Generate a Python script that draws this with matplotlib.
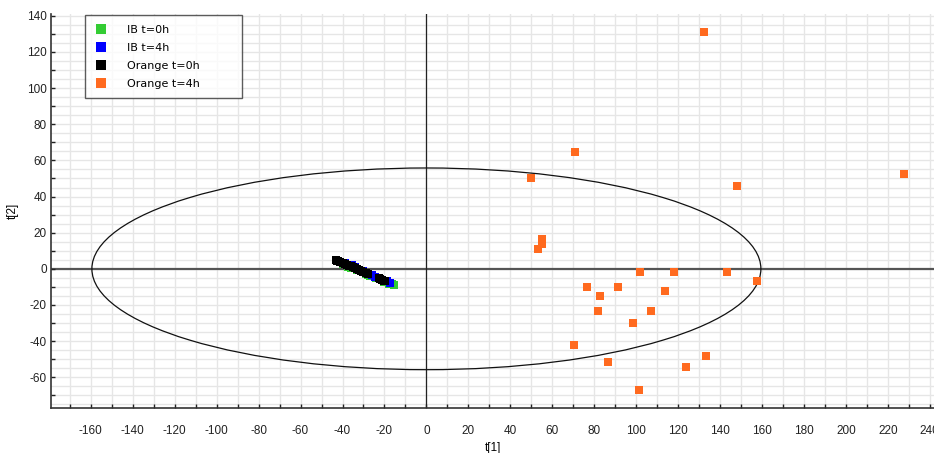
import numpy as np
import matplotlib.pyplot as plt
from matplotlib.patches import Ellipse
from matplotlib.ticker import MultipleLocator

plt.rcParams['axes.unicode_minus'] = False

# score values t[1], t[2] per group
ib0_t1 = [-40.0, -37.5, -36.0, -33.0, -29.0, -28.0, -27.0, -24.0, -20.0, -18.0, -16.5, -15.3]
ib0_t2 = [2.8, 1.2, 0.6, -0.8, -2.9, -3.4, -3.8, -5.3, -7.4, -8.2, -8.6, -9.0]

ib4_t1 = [-39.0, -35.5, -34.0, -30.0, -26.0, -24.5, -19.0, -17.5]
ib4_t2 = [3.4, 2.2, 1.2, -1.0, -3.6, -4.4, -6.8, -7.6]

or0_t1 = [-43.0, -42.5, -42.0, -41.0, -40.0, -39.0, -38.0, -37.0, -36.0, -35.0, -34.0,
          -33.0, -32.0, -31.0, -30.0, -29.0, -28.0, -22.5, -22.0, -21.0, -20.0, -19.5]
or0_t2 = [4.8, 4.5, 4.3, 3.8, 3.3, 2.8, 2.3, 1.8, 1.3, 0.8, 0.3,
          -0.2, -0.7, -1.1, -1.6, -2.1, -2.6, -5.2, -5.5, -6.0, -6.5, -6.8]

or4_t1 = [132.5, 71.0, 50.1, 148.3, 227.6, 55.2, 54.9, 53.0, 101.7, 118.2, 143.5, 157.8,
          76.7, 91.5, 82.9, 113.9, 82.0, 107.3, 98.6, 70.5, 86.7, 133.5, 123.6, 101.5]
or4_t2 = [131.2, 64.9, 50.0, 45.6, 52.2, 16.6, 13.8, 11.1, -1.5, -1.5, -1.5, -7.0,
          -10.3, -9.8, -15.3, -12.0, -23.1, -23.6, -29.7, -42.4, -51.8, -48.5, -54.1, -66.8]

# Hotelling T2 ellipse half-axes
ell_a = 159.5
ell_b = 55.8

fig = plt.figure(figsize=(9.34, 4.53), dpi=100)
ax = fig.add_axes([51 / 934, 45 / 453, 885 / 934, 394 / 453])

ax.set_xlim(-179, 243)
ax.set_ylim(-77, 141)

ax.xaxis.set_major_locator(MultipleLocator(20))
ax.xaxis.set_minor_locator(MultipleLocator(10))
ax.yaxis.set_major_locator(MultipleLocator(20))
ax.yaxis.set_minor_locator(MultipleLocator(10))

# light grid: every 10 in x, every 5 in y
for gx in np.arange(-170, 250, 10):
    ax.axvline(gx, color='#e6e6e6', lw=1.0, zorder=0)
for gy in np.arange(-75, 145, 5):
    ax.axhline(gy, color='#e6e6e6', lw=1.0, zorder=0)

ax.axhline(0, color='#555555', lw=1.6, zorder=1)
ax.axvline(0, color='#222222', lw=0.9, zorder=1)

ax.add_patch(Ellipse((0, 0), 2 * ell_a, 2 * ell_b, fill=False, edgecolor='#111111', lw=0.9, zorder=2))

ms = 6.2
ax.plot(ib0_t1, ib0_t2, 's', color='#33cc33', ms=ms, mew=0, ls='none', label='IB t=0h', zorder=3)
ax.plot(ib4_t1, ib4_t2, 's', color='#0000ff', ms=ms, mew=0, ls='none', label='IB t=4h', zorder=4)
ax.plot(or0_t1, or0_t2, 's', color='#000000', ms=ms, mew=0, ls='none', label='Orange t=0h', zorder=5)
ax.plot(or4_t1, or4_t2, 's', color='#ff6a1f', ms=ms, mew=0, ls='none', label='Orange t=4h', zorder=6)

for s in ['top', 'right']:
    ax.spines[s].set_visible(False)
for s in ['left', 'bottom']:
    ax.spines[s].set_color('#333333')
    ax.spines[s].set_linewidth(1.2)

ax.tick_params(which='both', direction='in', length=3, width=1, colors='#222222',
               labelsize=8.5, pad=12)
ax.tick_params(axis='y', pad=3)
ax.set_xticks(np.arange(-160, 250, 20))
ax.set_yticks(np.arange(-60, 150, 20))
for lab in ax.get_xticklabels() + ax.get_yticklabels():
    lab.set_family('Liberation Sans')

ax.set_xlabel('t[1]', fontsize=8.5, family='Liberation Sans', labelpad=4)
ax.set_ylabel('t[2]', fontsize=8.5, family='Liberation Sans', labelpad=6)

# fixed-width legend box in the top-left corner
leg = ax.legend(loc='upper left', bbox_to_anchor=(34 / 885, 1 - 5 / 394, 157 / 885, 0.01),
                mode='expand', frameon=True, fancybox=False, edgecolor='#333333',
                prop={'family': 'DejaVu Sans', 'size': 8},
                handletextpad=1.7, borderpad=0.85, labelspacing=0.72, markerscale=1.1,
                handlelength=1.2, borderaxespad=0)
leg.get_frame().set_linewidth(1.0)

fig.savefig('out.png', dpi=100)
